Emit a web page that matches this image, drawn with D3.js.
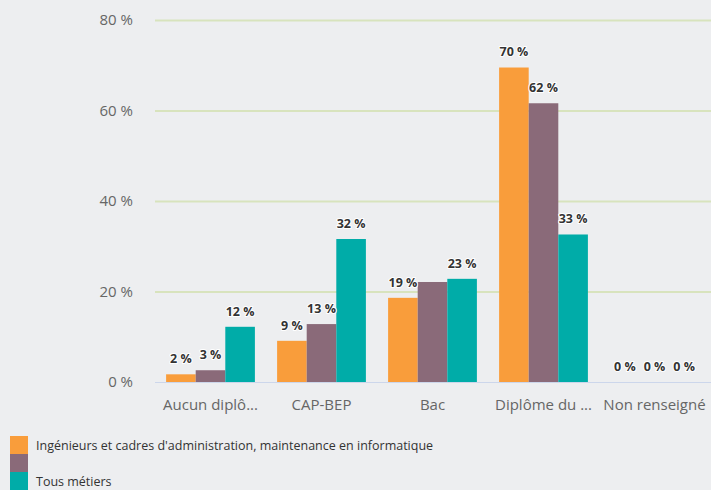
<!DOCTYPE html>
<html>
<head>
<meta charset="utf-8">
<script src="https://cdn.jsdelivr.net/npm/d3@7"></script>
<style>
  html, body { margin: 0; padding: 0; background: #edeef0; }
  svg { display: block; font-family: "Open Sans", "Noto Sans", sans-serif; }
  .axis text { fill: #666; font-size: 15px; }
  .label { font-size: 12.5px; font-weight: bold; fill: #333; stroke: #fff; stroke-width: 2px; paint-order: stroke; stroke-linejoin: round; }
  .legend text { fill: #333; font-size: 12.5px; }
</style>
</head>
<body>
<div id="chart"></div>
<script>
const categories = ["Aucun diplô...", "CAP-BEP", "Bac", "Diplôme du ...", "Non renseigné"];
const seriesNames = ["Ingénieurs et cadres d'administration, maintenance en informatique", "", "Tous métiers"];
const ingenieurs = [1.7, 9.1, 18.6, 69.5, 0];
const moyenne = [2.6, 12.8, 22.1, 61.6, 0];
const tousMetiers = [12.2, 31.6, 22.8, 32.6, 0];
const yTicks = [0, 20, 40, 60, 80];
const colors = ["#f99d3b", "#8a6a79", "#00aca8"];

const series = [ingenieurs, moyenne, tousMetiers];

var svg = d3.select("#chart").append("svg").attr("width", 711).attr("height", 490),
    margin = {top: 20, left: 155},
    width = 555,
    height = 362;

var x = d3.scaleBand().domain(categories).range([0, width]).paddingInner(0.2).paddingOuter(0.1),
    xs = d3.scaleBand().domain(d3.range(series.length)).range([0, x.bandwidth()]),
    y = d3.scaleLinear().domain([0, 80]).range([height, 0]);

var g = svg.append("g").attr("transform", "translate(" + margin.left + "," + margin.top + ")");

// gridlines
g.append("g")
  .selectAll("line")
  .data(yTicks.filter(t => t > 0))
  .enter().append("line")
    .attr("x1", 0).attr("x2", 560)
    .attr("y1", d => y(d) + 0.5).attr("y2", d => y(d) + 0.5)
    .attr("stroke", "#d8e3bd").attr("stroke-width", 2);

// y labels
g.append("g").attr("class", "axis")
  .selectAll("text")
  .data(yTicks)
  .enter().append("text")
    .attr("x", -22)
    .attr("y", d => y(d))
    .attr("dy", "0.35em")
    .attr("text-anchor", "end")
    .text(d => d + " %");

// bars
var groups = g.selectAll(".grp")
  .data(categories)
  .enter().append("g")
    .attr("transform", d => "translate(" + x(d) + ",0)");

series.forEach((s, i) => {
  groups.append("rect")
    .attr("x", xs(i))
    .attr("width", xs.bandwidth())
    .attr("y", (d, j) => y(s[j]))
    .attr("height", (d, j) => height - y(s[j]))
    .attr("fill", colors[i]);
});

// baseline
g.append("line")
  .attr("x1", 0).attr("x2", 560)
  .attr("y1", height + 0.5).attr("y2", height + 0.5)
  .attr("stroke", "#ccd6eb");

// x labels
g.append("g").attr("class", "axis")
  .selectAll("text")
  .data(categories)
  .enter().append("text")
    .attr("x", d => x(d) + x.bandwidth() / 2)
    .attr("y", height + 28)
    .attr("text-anchor", "middle")
    .text(d => d);

// data labels, hide those that overlap (like highcharts does)
var labels = [];
categories.forEach((c, j) => {
  series.forEach((s, i) => {
    labels.push({ x: x(c) + xs(i) + xs.bandwidth() / 2, y: y(s[j]) - 15.5, v: Math.round(s[j]) + " %", i: i });
  });
});
var shown = [];
labels.forEach(l => {
  var w = l.v.length * 6.5 + 4, h = 16;
  l.box = [l.x - w / 2, l.y - h / 2, l.x + w / 2, l.y + h / 2];
  var hit = shown.some(o => !(l.box[2] <= o.box[0] || l.box[0] >= o.box[2] || l.box[3] <= o.box[1] || l.box[1] >= o.box[3]));
  if (!hit || l.v === "0 %") shown.push(l);
});
// Bac purple label is hidden in the original because it runs into its neighbours
shown = shown.filter(l => !(l.v === "22 %" && l.i === 1));

g.selectAll(".label")
  .data(shown)
  .enter().append("text")
    .attr("class", "label")
    .attr("x", d => d.x)
    .attr("y", d => d.y)
    .attr("dy", "0.35em")
    .attr("text-anchor", "middle")
    .text(d => d.v);

// legend
var legend = svg.append("g").attr("class", "legend")
  .selectAll("g")
  .data(seriesNames)
  .enter().append("g")
    .attr("transform", (d, i) => "translate(10," + (436 + i * 18) + ")");

legend.append("rect")
  .attr("width", 18).attr("height", 18)
  .attr("fill", (d, i) => colors[i]);

legend.append("text")
  .attr("x", 26)
  .attr("y", 10)
  .attr("dy", "0.35em")
  .text(d => d);
</script>
</body>
</html>
